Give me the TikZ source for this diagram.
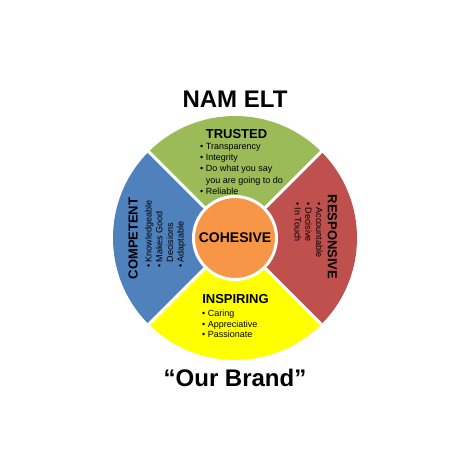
\documentclass[tikz,border=0pt]{standalone}
\usepackage{fontspec}
\setmainfont{Liberation Sans}
\usetikzlibrary{calc}
\definecolor{wgreen}{HTML}{9BBB59}
\definecolor{wred}{HTML}{C0504D}
\definecolor{wblue}{HTML}{4F81BD}
\definecolor{wyellow}{HTML}{FFFF00}
\definecolor{worange}{HTML}{F79646}
\begin{document}
\begin{tikzpicture}[x=1pt,y=1pt,
  title/.style={font=\fontsize{24}{28}\selectfont\bfseries, inner sep=0, anchor=base},
  head/.style={font=\fontsize{13}{15}\selectfont\bfseries, inner sep=0, anchor=base},
  item/.style={font=\fontsize{9}{11}\selectfont, inner sep=0, anchor=base west},
  sep/.style={white, line width=3pt}]
\useasboundingbox (0,0) rectangle (469,476);
\coordinate (c) at (235,238);
% sectors
\fill[wgreen]  (c) -- ++(45:122)  arc[start angle=45, end angle=135, radius=122] -- cycle;
\fill[wblue]   (c) -- ++(135:122) arc[start angle=135,end angle=225, radius=122] -- cycle;
\fill[wyellow] (c) -- ++(225:122) arc[start angle=225,end angle=315, radius=122] -- cycle;
\fill[wred]    (c) -- ++(315:122) arc[start angle=315,end angle=405, radius=122] -- cycle;
\foreach \a/\n in {45/ne,135/nw,225/sw,315/se}
  \coordinate (rim\n) at ($(c)+(\a:124)$);
\draw[sep] (c) -- (rimne);
\draw[sep] (c) -- (rimnw);
\draw[sep] (c) -- (rimsw);
\draw[sep] (c) -- (rimse);
% core
\node[circle, fill=worange, draw=white, line width=3pt, minimum size=83pt, inner sep=0] (core) at (c) {};
\node[font=\fontsize{14}{16}\selectfont\bfseries, inner sep=0, anchor=base] (cohesive) at (235,233.5) {COHESIVE};
% titles
\node[title] (nam) at (235,368) {NAM ELT};
\node[title] (brand) at (235,89) {“Our Brand”};
% trusted
\node[head] (trusted) at (236.5,337.4) {TRUSTED};
\node[item] (t1) at (200,326.5) {• Transparency};
\node[item] (t2) at (200,315.2) {• Integrity};
\node[item] (t3) at (200,304.0) {• Do what you say};
\node[item] (t3b) at (205.7,292.7) {you are going to do};
\node[item] (t4) at (200,281.4) {• Reliable};
% inspiring
\node[head] (inspiring) at (235.5,172.3) {INSPIRING};
\node[item] (i1) at (202,159.5) {• Caring};
\node[item] (i2) at (202,148.8) {• Appreciative};
\node[item] (i3) at (202,138.1) {• Passionate};
% competent
\node[head, rotate=90] (competent) at (137.7,237.5) {COMPETENT};
\node[item, rotate=90] (c1) at (151.5,208) {• Knowledgeable};
\node[item, rotate=90] (c2) at (162.3,208) {• Makes Good};
\node[item, rotate=90] (c2b) at (173,213.7) {Decisions};
\node[item, rotate=90] (c3) at (183.7,208) {• Adaptable};
% responsive
\node[head, rotate=-90] (responsive) at (327.8,239) {RESPONSIVE};
\node[item, rotate=-90] (r1) at (316,274) {• Accountable};
\node[item, rotate=-90] (r2) at (305.3,274) {• Decisive};
\node[item, rotate=-90] (r3) at (294.6,274) {• In Touch};
\end{tikzpicture}
\end{document}
